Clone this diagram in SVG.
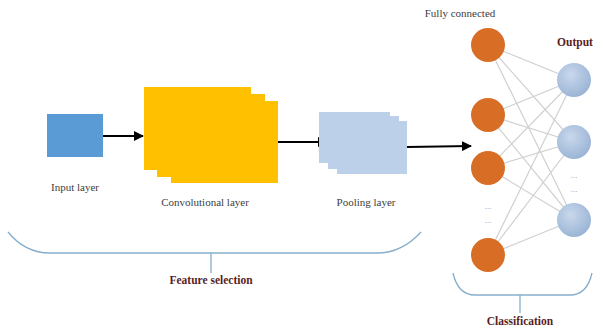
<svg xmlns="http://www.w3.org/2000/svg" width="596" height="330" viewBox="0 0 596 330">
  <defs>
    <marker id="arrow" viewBox="0 0 10 10" refX="9" refY="5" markerWidth="5" markerHeight="5" orient="auto" markerUnits="strokeWidth">
      <path d="M0,0 L10,5 L0,10 z" fill="#000"/>
    </marker>
    <radialGradient id="blueBall" cx="0.4" cy="0.35" r="0.7">
      <stop offset="0" stop-color="#c9d8ec"/>
      <stop offset="1" stop-color="#98b2d4"/>
    </radialGradient>
    <style>
      .lbl { font-family: "Liberation Serif", "Times New Roman", serif; font-size: 11px; fill: #404040; }
      .head { font-family: "Liberation Serif", "Times New Roman", serif; font-size: 11.5px; font-weight: bold; fill: #5a1e1e; }
      .conv { fill: #ffc000; }
      .pool { fill: #bcd0ea; }
      .hid { fill: #d86d26; }
      .out { fill: url(#blueBall); }
      .dots { font-family: "Liberation Serif", serif; font-size: 9px; fill: #999; }
      .brace { fill: none; stroke: #86aecb; stroke-width: 1.3; }
      .flow { stroke: #000; stroke-width: 2; fill: none; }
      .mesh { stroke: #d0d0d0; stroke-width: 1.2; }
    </style>
  </defs>

  <rect width="596" height="330" fill="#fff"/>

  <!-- connectors -->
  <g id="connectors">
    <line class="flow" x1="103" y1="136" x2="143" y2="136" marker-end="url(#arrow)"/>
    <line class="flow" x1="278" y1="142" x2="327" y2="142" marker-end="url(#arrow)"/>
    <line class="flow" x1="407" y1="147" x2="471" y2="146" marker-end="url(#arrow)"/>
    <!-- dense links between hidden and output neurons -->
    <g class="mesh">
      <line x1="488" y1="45" x2="574" y2="80"/>
      <line x1="488" y1="45" x2="574" y2="142"/>
      <line x1="488" y1="45" x2="574" y2="220"/>
      <line x1="488" y1="115" x2="574" y2="80"/>
      <line x1="488" y1="115" x2="574" y2="142"/>
      <line x1="488" y1="115" x2="574" y2="220"/>
      <line x1="488" y1="168" x2="574" y2="80"/>
      <line x1="488" y1="168" x2="574" y2="142"/>
      <line x1="488" y1="168" x2="574" y2="220"/>
      <line x1="488" y1="255" x2="574" y2="80"/>
      <line x1="488" y1="255" x2="574" y2="142"/>
      <line x1="488" y1="255" x2="574" y2="220"/>
    </g>
  </g>

  <g id="input-layer">
    <rect x="47" y="114" width="56" height="43" fill="#5b9bd5"/>
    <text class="lbl" x="75" y="191" text-anchor="middle">Input layer</text>
  </g>

  <g id="conv-layer">
    <rect class="conv" x="144" y="87" width="107" height="83"/>
    <rect class="conv" x="157" y="94" width="108" height="83"/>
    <rect class="conv" x="171" y="101" width="107" height="82"/>
    <text class="lbl" x="205" y="206" text-anchor="middle">Convolutional layer</text>
  </g>

  <g id="pool-layer">
    <rect class="pool" x="319" y="112" width="71" height="51"/>
    <rect class="pool" x="328" y="116" width="71" height="53"/>
    <rect class="pool" x="337" y="121" width="70" height="53"/>
    <text class="lbl" x="366" y="206" text-anchor="middle">Pooling layer</text>
  </g>

  <g id="fully-connected">
    <text class="lbl" x="460" y="17" text-anchor="middle">Fully connected</text>
    <circle class="hid" cx="488" cy="45" r="17"/>
    <circle class="hid" cx="488" cy="115" r="17"/>
    <circle class="hid" cx="488" cy="168" r="17"/>
    <circle class="hid" cx="488" cy="255" r="17"/>
    <text class="dots" x="488" y="209" text-anchor="middle">...</text>
    <text class="dots" x="488" y="223" text-anchor="middle">...</text>
  </g>

  <g id="output">
    <text class="head" x="575" y="46" text-anchor="middle" font-size="13">Output</text>
    <circle class="out" cx="574" cy="80" r="17"/>
    <circle class="out" cx="574" cy="142" r="17"/>
    <circle class="out" cx="574" cy="220" r="17"/>
    <text class="dots" x="574" y="178" text-anchor="middle">...</text>
    <text class="dots" x="574" y="192" text-anchor="middle">...</text>
  </g>

  <g id="feature-selection">
    <path class="brace" d="M8,232 Q25,253 50,253 L377,253 Q402,253 421,232"/>
    <line class="brace" x1="211" y1="253" x2="211" y2="273"/>
    <text class="head" x="211" y="284" text-anchor="middle">Feature selection</text>
  </g>

  <g id="classification">
    <path class="brace" d="M453,273 Q458,295 475,295 L570,295 Q587,295 592,273"/>
    <line class="brace" x1="520" y1="295" x2="520" y2="313"/>
    <text class="head" x="520" y="325" text-anchor="middle">Classification</text>
  </g>
</svg>
